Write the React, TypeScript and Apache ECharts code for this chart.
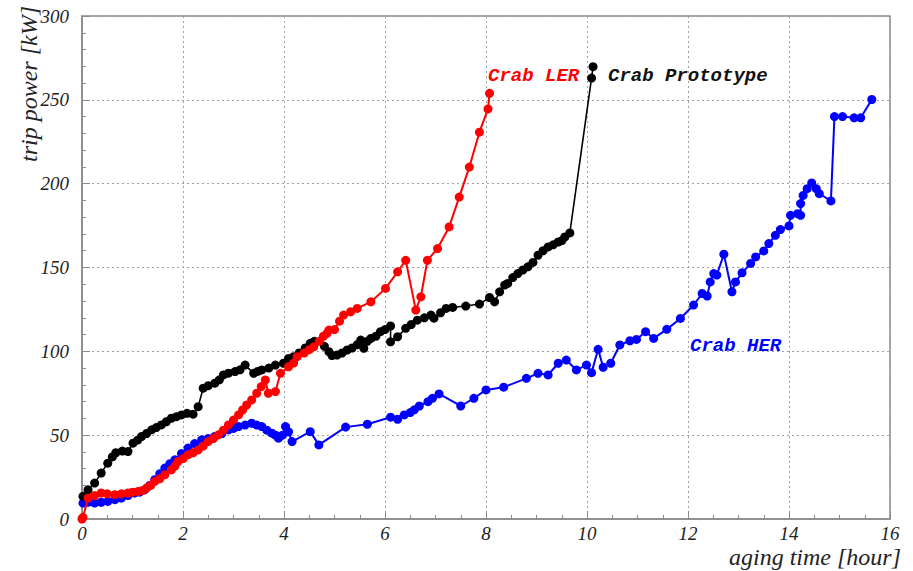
import React, { useEffect, useRef } from "react";
import * as echarts from "echarts";

// ---- data ----
const protoTime = [0.02,0.12,0.25,0.38,0.51,0.6,0.67,0.8,0.91,1.01,1.1,1.18,1.28,1.38,1.47,1.57,1.67,1.77,1.87,1.97,2.08,2.2,2.3,2.4,2.5,2.63,2.72,2.8,2.9,3.03,3.13,3.23,3.4,3.48,3.56,3.7,3.83,3.99,4.09,4.19,4.3,4.42,4.52,4.6,4.8,4.89,4.95,5.05,5.15,5.25,5.35,5.45,5.52,5.58,5.65,5.72,5.82,5.91,6.0,6.11,6.11,6.25,6.41,6.52,6.64,6.78,6.91,6.97,7.1,7.21,7.34,7.6,7.87,8.07,8.17,8.27,8.37,8.43,8.53,8.63,8.73,8.83,8.93,9.03,9.13,9.23,9.33,9.43,9.5,9.56,9.66,10.09,10.12];
const protoPower = [13.5,17.4,21.4,27.4,33.3,37,39.5,40.5,40.2,45.2,47,49.2,51,53.2,54.5,56.1,58,60.1,61,62.1,63,62.5,67,78,79.5,81,83,85.9,87,87.9,89,91.8,86.9,88,88.9,90,91.8,92.9,95.8,96.8,99,102,104.8,106,103,99.8,97.5,97.8,99,100.8,102,104,106.7,101.8,106,107.7,109,111.7,113,115.1,105.7,108.7,113.7,116,118.6,120,121.6,119.8,123,125.6,126.2,127,128.2,132.1,129.5,135.5,139.5,140.5,144,146.4,148.5,150.4,153,157.3,160,162.3,163.5,165.2,166,168.2,170.6,263,269.8];

const lerTime = [0.0,0.02,0.12,0.25,0.38,0.5,0.65,0.78,0.91,1.0,1.11,1.2,1.28,1.36,1.44,1.54,1.64,1.77,1.84,1.9,2.0,2.1,2.2,2.3,2.4,2.5,2.6,2.7,2.8,2.9,3.0,3.1,3.18,3.26,3.36,3.46,3.55,3.63,3.69,3.83,3.93,4.09,4.19,4.26,4.4,4.5,4.59,4.7,4.78,4.85,4.89,5.0,5.1,5.18,5.32,5.45,5.72,6.01,6.25,6.41,6.61,6.71,6.84,7.04,7.27,7.47,7.67,7.87,8.04,8.07];
const lerPower = [0,1,12.5,14,15.5,15,14.5,15,15.5,16,16.4,17,18.5,20,22.4,24,26.4,29.3,31.5,34.3,36,38.3,39.5,41.2,43.5,46.2,48,50.2,53,56.1,59,62.1,65,68,71,75,79,82.9,75,76,86.9,90.8,93,96.8,99,101,102.7,106,109,110.7,112.7,113,118,121.6,123.6,125.6,129.5,137.5,147.4,154.3,124.6,132.5,154.3,161.3,174.2,192,209.9,230.7,244.6,253.9];

const herTime = [0.02,0.12,0.25,0.38,0.51,0.65,0.78,0.91,1.04,1.14,1.24,1.34,1.44,1.54,1.64,1.74,1.84,1.97,2.1,2.23,2.37,2.5,2.63,2.77,2.9,3.0,3.1,3.23,3.36,3.46,3.56,3.66,3.76,3.83,3.89,3.97,4.03,4.09,4.16,4.52,4.69,5.22,5.65,6.11,6.25,6.38,6.5,6.58,6.68,6.85,6.94,7.07,7.5,7.76,8.0,8.35,8.8,9.03,9.23,9.43,9.59,9.79,9.99,10.09,10.22,10.32,10.47,10.65,10.85,10.98,11.16,11.32,11.58,11.85,12.11,12.28,12.38,12.44,12.51,12.57,12.71,12.87,12.94,13.07,13.24,13.34,13.5,13.6,13.73,13.83,14.0,14.03,14.17,14.23,14.23,14.28,14.36,14.45,14.54,14.6,14.83,14.9,15.06,15.29,15.42,15.64];
const herPower = [9.5,10,9.5,10,10.5,11.5,12.5,14,15.5,16,17.4,20,23.4,27,30.4,33,35.3,39,42.3,45,47.2,48,49.2,51,53.2,54,55.1,56,57.1,56,55.1,53,51.2,50,48.2,50,55.1,52,46.2,52.1,44.2,54.8,56.5,60.7,59.5,62.1,63.5,65.1,67.4,70,72,74.6,67.4,72,77,78.6,83.9,86.9,85.9,92.9,94.8,88.9,91.8,87.3,101.2,90.5,92.9,103.8,106.3,107.1,111.7,107.7,113.1,119.6,127.6,134.5,133,141.4,146.4,145.5,157.9,135.5,141.4,146.8,152.4,156.3,159.9,164.3,169.2,172.6,174.8,181.1,182.1,181.1,188.1,193,197,200.4,197,194,189.7,240,240,239.3,239.3,250.2];

const seriesNames = ["Crab HER", "Crab Prototype", "Crab LER"];
const seriesColors = ["#0000ff", "#000000", "#ff0000"];
const xTitle = "aging time [hour]";
const yTitle = "trip power [kW]";

const pairs = (t: number[], p: number[]) => t.map((v, i) => [v, p[i]]);

export default function App() {
  const ref = useRef<HTMLDivElement>(null);
  useEffect(() => {
    if (!ref.current) return;
    const chart = echarts.init(ref.current, undefined, { renderer: "svg" });
    const serif = "'Liberation Serif', 'DejaVu Serif', serif";
    const mono = "'Liberation Mono', 'DejaVu Sans Mono', monospace";
    const axisGray = "#8a8a8a";
    const gridLine = { show: true, lineStyle: { color: "#a0a0a0", type: [2, 3] as any, width: 1 } };
    const datasets = [pairs(herTime, herPower), pairs(protoTime, protoPower), pairs(lerTime, lerPower)];
    chart.setOption({
      animation: false,
      backgroundColor: "#ffffff",
      grid: { left: 82, top: 16, width: 808, height: 503, show: true, borderColor: axisGray, borderWidth: 1.5, backgroundColor: "transparent" },
      xAxis: {
        type: "value", min: 0, max: 16, interval: 2,
        axisLine: { show: true, lineStyle: { color: axisGray, width: 1.5 } },
        axisTick: { show: true, inside: true, length: 8, lineStyle: { color: axisGray } },
        minorTick: { show: true, splitNumber: 4, length: 4, lineStyle: { color: axisGray } },
        splitLine: gridLine,
        axisLabel: { fontFamily: serif, fontStyle: "italic", fontSize: 19, color: "#222", margin: 5 },
      },
      yAxis: {
        type: "value", min: 0, max: 300, interval: 50,
        axisLine: { show: true, lineStyle: { color: axisGray, width: 1.5 } },
        axisTick: { show: true, inside: true, length: 8, lineStyle: { color: axisGray } },
        minorTick: { show: true, splitNumber: 5, length: 4, lineStyle: { color: axisGray } },
        splitLine: gridLine,
        axisLabel: { fontFamily: serif, fontStyle: "italic", fontSize: 19, color: "#222", margin: 13 },
      },
      series: datasets.map((d, i) => ({
        name: seriesNames[i],
        type: "line",
        data: d,
        symbol: "circle",
        symbolSize: 9,
        showSymbol: true,
        lineStyle: { color: seriesColors[i], width: i === 1 ? 1.6 : 2 },
        itemStyle: { color: seriesColors[i] },
        z: 2 + i,
      })),
      graphic: [
        { type: "text", left: 488, top: 66, style: { text: "Crab LER", fill: "#ff0000", font: `italic bold 19px ${mono}` } },
        { type: "text", left: 608, top: 66, style: { text: "Crab Prototype", fill: "#111", font: `italic bold 19px ${mono}` } },
        { type: "text", left: 690, top: 336, style: { text: "Crab HER", fill: "#0000ff", font: `italic bold 19px ${mono}` } },
        { type: "text", x: 901, y: 557, style: { text: xTitle, fill: "#222", font: `italic 24px ${serif}`, align: "right", verticalAlign: "middle" } },
        { type: "text", x: 29, y: 84, rotation: Math.PI / 2, style: { text: yTitle, fill: "#222", font: `italic 24px ${serif}`, align: "center", verticalAlign: "middle" } },
      ],
    });
    return () => chart.dispose();
  }, []);
  return <div ref={ref} style={{ position: "fixed", left: 0, top: 0, width: 913, height: 571 }} />;
}
